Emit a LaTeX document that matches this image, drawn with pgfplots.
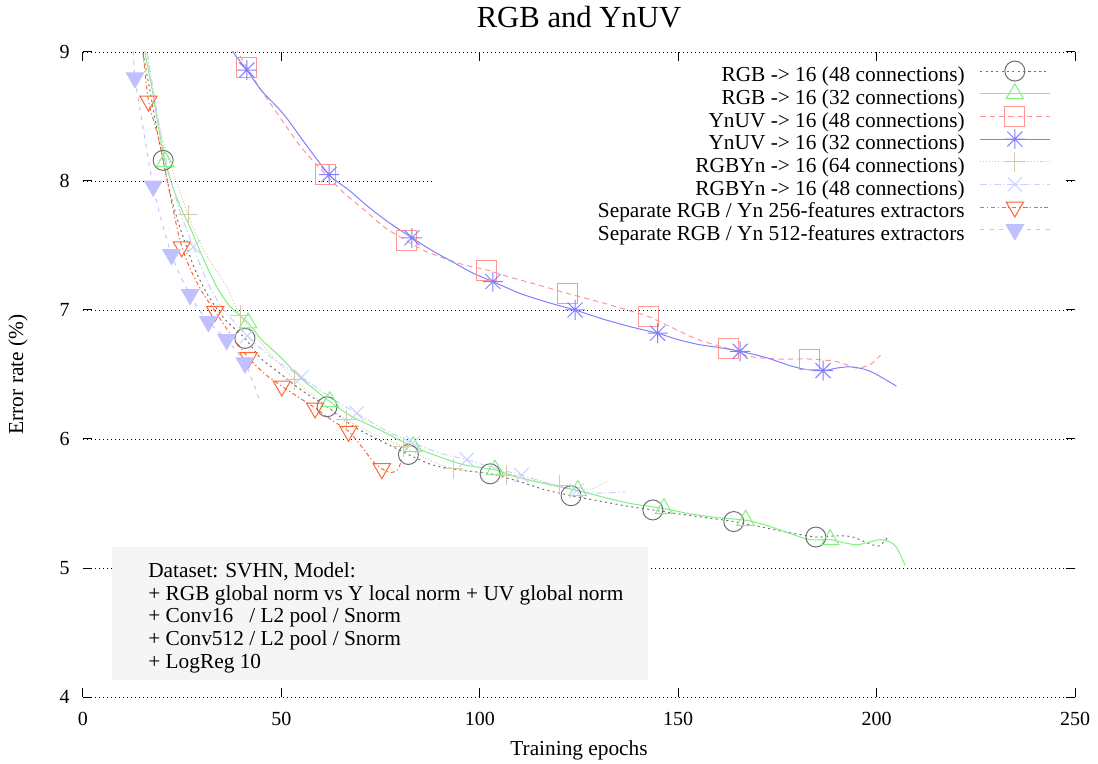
\documentclass[border=0pt]{standalone}
\usepackage{fontspec}
\setmainfont{Liberation Serif}
\usepackage{pgfplots}
\pgfplotsset{compat=1.18}

\definecolor{cgray}{RGB}{112,112,112}
\definecolor{cgreen}{RGB}{128,240,128}
\definecolor{cpink}{RGB}{255,150,150}
\definecolor{cblue}{RGB}{128,128,255}
\definecolor{ctan}{RGB}{214,202,172}
\definecolor{clavx}{RGB}{200,208,255}
\definecolor{corange}{RGB}{255,100,50}
\definecolor{clavtri}{RGB}{192,192,255}

% gnuplot style star: plus and cross together
\pgfdeclareplotmark{star8}{%
  \pgfpathmoveto{\pgfqpoint{-\pgfplotmarksize}{0pt}}\pgfpathlineto{\pgfqpoint{\pgfplotmarksize}{0pt}}%
  \pgfpathmoveto{\pgfqpoint{0pt}{-\pgfplotmarksize}}\pgfpathlineto{\pgfqpoint{0pt}{\pgfplotmarksize}}%
  \pgfpathmoveto{\pgfqpoint{-0.75\pgfplotmarksize}{-0.75\pgfplotmarksize}}\pgfpathlineto{\pgfqpoint{0.75\pgfplotmarksize}{0.75\pgfplotmarksize}}%
  \pgfpathmoveto{\pgfqpoint{-0.75\pgfplotmarksize}{0.75\pgfplotmarksize}}\pgfpathlineto{\pgfqpoint{0.75\pgfplotmarksize}{-0.75\pgfplotmarksize}}%
  \pgfusepathqstroke}

\begin{document}
\begin{tikzpicture}
\begin{axis}[
  name=ax,
  scale only axis,
  width=744pt, height=483.75pt,
  xmin=0, xmax=250, ymin=4, ymax=9,
  xtick={0,50,...,250}, ytick={4,5,...,9},
  axis line style={draw=none},
  tick pos=both, tick align=inside,
  major tick length=7pt,
  every tick/.style={black, line width=0.75pt},
  ymajorgrids,
  grid style={black, line width=0.7pt, dash pattern=on 0.7pt off 2.3pt},
  /pgf/number format/assume math mode=true,
  tick label style={font=\fontsize{15}{17}\selectfont},
  yticklabel style={anchor=east, inner sep=0pt, xshift=-9.75pt},
  xticklabel style={anchor=north, inner sep=0pt, yshift=-11pt},
  title={RGB and YnUV},
  title style={at={(axis description cs:0.5,1.0256)}, anchor=base, font=\fontsize{23}{25}\selectfont},
  xlabel={Training epochs},
  xlabel style={at={(axis description cs:0.5,-0.0822)}, anchor=center, font=\fontsize{16}{18}\selectfont},
  ylabel={Error rate (\%)},
  ylabel style={at={(axis description cs:-0.0655,0.5)}, anchor=center, font=\fontsize{16}{18}\selectfont},
  every axis plot/.append style={line width=0.75pt, smooth, tension=0.45},
  mark size=7.5pt,
  legend cell align=right,
  legend plot pos=right,
  legend image code/.code={%
    \draw[mark indices={2}, every mark/.append style={overlay}]
      plot coordinates {(0pt,4.5pt) (26pt,4.5pt) (52pt,4.5pt)};},
  legend style={at={(axis description cs:1,1)}, anchor=north east, xshift=-18.75pt, yshift=-11.3pt,
    fill=white, draw=none, inner sep=0pt, outer sep=0pt, row sep=2pt, column sep=11.25pt,
    font=\fontsize{16}{18}\selectfont,
    nodes={inner sep=0pt, text height=11pt, text depth=4pt}},
]

% the key box hides the grid line at 8
\fill[white] (axis cs:88,7.98) rectangle (axis cs:247.5,8.02);

\addplot[cgray, dash pattern=on 1.5pt off 2.5pt, mark=o, mark options={solid},
  mark indices={4,12,16,19,22,25,28,31,34}] coordinates {
 (14.5,9.2) (15.1,9.0) (17,8.68) (18.5,8.42) (20.2,8.16) (22,7.9) (24,7.68) (26.1,7.49)
 (28,7.33) (30.3,7.18) (33,7.04) (36,6.92) (40.8,6.78) (45,6.62) (49.6,6.51) (55,6.38)
 (61.5,6.25) (68,6.1) (74.8,5.99) (82,5.88) (88,5.8) (95,5.76) (102.6,5.73) (110,5.67)
 (116,5.61) (123,5.56) (130,5.52) (137,5.48) (143.6,5.45) (150,5.42) (157,5.39) (164,5.36)
 (170.6,5.32) (177,5.28) (184.7,5.24) (190,5.25) (194,5.24) (200.3,5.17) (203,5.25)
};
\addlegendentry{RGB -> 16 (48 connections)}

\addplot[cgreen, solid, mark=triangle, mark options={solid},
  mark indices={4,11,15,18,21,24,27,30,34}] coordinates {
 (15.2,9.2) (15.6,9.0) (17.5,8.7) (19,8.42) (20.7,8.15) (23,7.92) (25,7.77) (27,7.64)
 (30,7.42) (33.7,7.18) (37,7.03) (41.6,6.9) (45,6.77) (49.6,6.64) (55,6.47) (62.2,6.29)
 (68,6.17) (74.8,6.07) (83.2,5.94) (90,5.86) (96,5.8) (103.8,5.76) (110,5.7) (117,5.65)
 (124.7,5.6) (131,5.55) (138,5.5) (146.4,5.46) (153,5.42) (160,5.39) (167,5.37) (172.3,5.33)
 (178,5.27) (183,5.22) (188.3,5.22) (191,5.2) (195,5.18) (198,5.2) (201,5.22) (203.5,5.2)
 (205,5.16) (207.2,5.02)
};
\addlegendentry{RGB -> 16 (32 connections)}

\addplot[cpink, dash pattern=on 4pt off 3pt, mark=square, mark options={solid},
  mark indices={2,6,10,14,17,20,23,26}] coordinates {
 (37.5,9.1) (39,9.0) (41.3,8.88) (45,8.7) (50.4,8.46) (55,8.26) (61.2,8.05) (66,7.9)
 (71.5,7.76) (76,7.64) (81.4,7.54) (86,7.46) (92,7.39) (96,7.35) (101.8,7.31) (107,7.26)
 (114,7.2) (122,7.13) (128,7.08) (135,7.02) (142.4,6.95) (148,6.87) (155,6.77) (162.7,6.7)
 (168,6.64) (175,6.62) (183,6.62) (190,6.6) (195,6.55) (198.5,6.58) (201,6.65)
};
\addlegendentry{YnUV -> 16 (48 connections)}

\addplot[cblue, solid, mark=star8, mark options={solid},
  mark indices={2,6,10,14,17,20,24,28}] coordinates {
 (36,9.1) (37.8,9.0) (41.3,8.86) (45,8.7) (50.5,8.52) (56,8.29) (62,8.05) (67,7.93)
 (71.5,7.81) (77,7.68) (82.9,7.56) (88,7.46) (93.3,7.37) (98,7.29) (103.3,7.22) (110,7.13)
 (117,7.06) (124,7.0) (131,6.93) (138,6.87) (144.8,6.82) (150,6.77) (155.5,6.73) (160,6.71)
 (165.6,6.68) (172.3,6.63) (178,6.57) (182,6.54) (186.5,6.53) (190,6.55) (193.3,6.56) (197,6.54)
 (200,6.5) (205,6.41)
};
\addlegendentry{YnUV -> 16 (32 connections)}

\addplot[ctan, dash pattern=on 0.75pt off 1.5pt, mark=+, mark options={solid},
  mark indices={6,10,13,15,17,19,21,23}] coordinates {
 (15.5,9.2) (16,9.0) (18,8.62) (20,8.33) (22,8.13) (24,7.95) (26.5,7.74) (29,7.55)
 (32,7.38) (36.2,7.18) (39.6,6.96) (45,6.74) (49,6.6) (53.4,6.46) (60,6.29) (66.4,6.15)
 (73,6.04) (80.7,5.94) (87,5.84) (93.3,5.77) (100,5.74) (106.8,5.72) (113.4,5.68) (120.2,5.64)
 (125,5.62) (128,5.61) (132,5.67)
};
\addlegendentry{RGBYn -> 16 (64 connections)}

\addplot[clavx, dash pattern=on 5pt off 2pt on 1pt off 2pt, mark=x, mark options={solid},
  mark indices={6,9,11,13,15,17,19,21}] coordinates {
 (15.5,9.2) (16.2,9.0) (18,8.65) (20,8.3) (22,8.02) (24.5,7.76) (27.8,7.49) (31,7.24)
 (35,7.02) (41.4,6.8) (48,6.62) (55.1,6.48) (62,6.33) (69,6.2) (76,6.07) (83.2,5.97)
 (90,5.89) (96.7,5.84) (103,5.78) (110.5,5.72) (117,5.66) (124.4,5.6) (130,5.58) (136.6,5.59)
};
\addlegendentry{RGBYn -> 16 (48 connections)}

\addplot[corange, dash pattern=on 3pt off 2pt on 1pt off 2pt, mark=triangle, mark options={solid, rotate=180},
  mark indices={2,7,10,12,14,16,18,21}] coordinates {
 (14.5,9.15) (15.1,9.0) (16.5,8.62) (18,8.45) (19.4,8.28) (21.1,8.02) (23.6,7.65) (24.9,7.49)
 (27,7.32) (30,7.14) (33.3,6.99) (37,6.82) (41.7,6.63) (46,6.5) (50.1,6.41) (54,6.33)
 (58.5,6.24) (62.5,6.15) (66.9,6.06) (70,5.95) (73,5.83) (75.3,5.77) (77.5,5.74) (79.3,5.76)
 (80.3,5.84)
};
\addlegendentry{Separate RGB / Yn 256-features extractors}

\addplot[clavtri, dash pattern=on 3pt off 4pt, mark=triangle*, mark options={solid, rotate=180, fill=clavtri},
  mark indices={2,4,6,8,10,12,14}] coordinates {
 (12.3,9.15) (12.7,9.0) (13.1,8.8) (15.4,8.36) (17.7,7.96) (20,7.67) (22.3,7.43) (24.6,7.26)
 (27,7.12) (29.3,7.0) (31.6,6.91) (33.9,6.84) (36.2,6.77) (38.5,6.69) (40.8,6.59) (42.7,6.45)
 (44.6,6.29)
};
\addlegendentry{Separate RGB / Yn 512-features extractors}

\fill[black!4] (axis cs:7.4,5.163) rectangle (axis cs:142.3,4.132);
\node[anchor=north west, align=left, inner sep=0pt, font=\fontsize{16}{16.9}\selectfont]
  at (axis cs:16.4,5.04) {Dataset: SVHN, Model:\\
  + RGB global norm vs Y local norm + UV global norm\\
  + Conv16 \ \ / L2 pool / Snorm\\
  + Conv512 / L2 pool / Snorm\\
  + LogReg 10};
\end{axis}
\pgfresetboundingbox
\path ([xshift=-62.25pt,yshift=-49.5pt]ax.south west) rectangle ([xshift=17.25pt,yshift=39pt]ax.north east);
\end{tikzpicture}
\end{document}
